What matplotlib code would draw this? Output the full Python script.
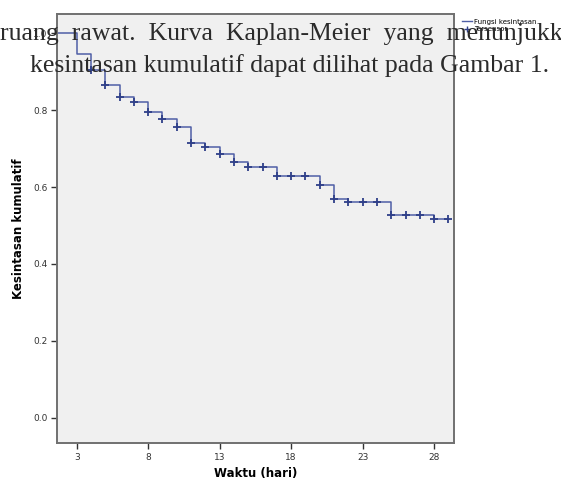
import numpy as np
import matplotlib
matplotlib.use('Agg')
import matplotlib.pyplot as plt
from matplotlib.lines import Line2D

# Kaplan-Meier: waktu kejadian (hari) dan kesintasan kumulatif setelah kejadian
hari_kejadian = [3, 4, 5, 6, 7, 8, 9, 10, 11, 12, 13, 14, 15, 17, 20, 21, 22, 25, 28]
kesintasan = [0.947, 0.904, 0.865, 0.833, 0.820, 0.794, 0.777, 0.757, 0.715, 0.705,
              0.685, 0.666, 0.653, 0.628, 0.605, 0.569, 0.561, 0.528, 0.517]
# hari dengan pasien tersensor
hari_sensor = [4, 5, 6, 7, 8, 9, 10, 11, 12, 13, 14, 15, 16, 17, 18, 19, 20,
               21, 22, 23, 24, 25, 26, 27, 28, 29]
hari_akhir = 29

xticks = [3, 8, 13, 18, 23, 28]
yticks = [0.0, 0.2, 0.4, 0.6, 0.8, 1.0]

warna_garis = '#4f5fa6'
warna_sensor = '#2f3f88'

fig = plt.figure(figsize=(5.61, 4.82), dpi=100)
ax = fig.add_axes([0.102, 0.081, 0.707, 0.889])
ax.set_facecolor('#f0f0f0')

# kurva tangga
t = [0] + hari_kejadian + [hari_akhir]
s = [1.0] + kesintasan + [kesintasan[-1]]
ax.step(t, s, where='post', color=warna_garis, linewidth=1.1)

# tanda sensor
idx = np.searchsorted(hari_kejadian, hari_sensor, side='right') - 1
s_sensor = [kesintasan[i] if i >= 0 else 1.0 for i in idx]
ax.plot(hari_sensor, s_sensor, linestyle='none', marker='+', markersize=6,
        markeredgewidth=1.3, color=warna_sensor)

ax.set_xlim(1.64, 29.38)
ax.set_ylim(-0.066, 1.049)
ax.set_xticks(xticks)
ax.set_yticks(yticks)
ax.set_yticklabels([f'{v:.1f}' for v in yticks])
ax.tick_params(direction='out', length=4, width=1, color='#333333',
               labelsize=6.5, labelcolor='#333333', pad=3)
for sp in ax.spines.values():
    sp.set_color('#707070')
    sp.set_linewidth(1.4)

ax.set_xlabel('Waktu (hari)', fontsize=8.5, fontweight='bold', labelpad=4)
ax.set_ylabel('Kesintasan kumulatif', fontsize=8.5, fontweight='bold', labelpad=6)

handles = [Line2D([], [], color=warna_garis, linewidth=1, drawstyle='steps-mid'),
           Line2D([], [], color=warna_sensor, marker='+', linestyle='none', markersize=4)]
ax.legend(handles, ['Fungsi kesintasan', 'Tersensor'], loc='upper left',
          bbox_to_anchor=(1.01, 1.0), frameon=False, fontsize=5,
          handlelength=1.5, handletextpad=0.3, borderaxespad=0.2, labelspacing=0.2)

# teks paragraf dari halaman yang tertumpuk di atas grafik
fig.text(0.0, 1 - 40 / 482, 'ruang  rawat.  Kurva  Kaplan-Meier  yang  menunjukkan',
         fontsize=18.5, family='Liberation Serif', color='#2b2b2b', va='baseline')
fig.text(30 / 561, 1 - 72 / 482, 'kesintasan kumulatif dapat dilihat pada Gambar 1.',
         fontsize=18.5, family='Liberation Serif', color='#2b2b2b', va='baseline')

fig.savefig('out.png', dpi=100)
